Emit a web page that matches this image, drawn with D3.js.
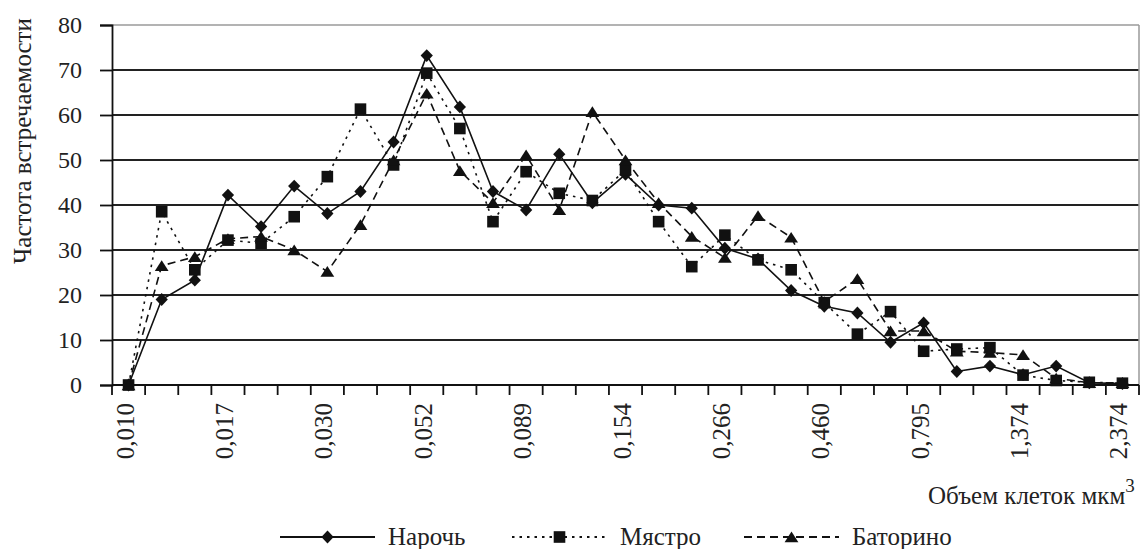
<!DOCTYPE html>
<html><head><meta charset="utf-8">
<script src="https://cdn.jsdelivr.net/npm/d3@7"></script>
<style>
html,body{margin:0;padding:0;background:#fff;}
</style></head>
<body><svg id="chart" width="1141" height="549"></svg>
<script>
// ---- data ----
const categories = d3.range(31); // 31 volume classes, log-spaced
const tickLabels = ["0,010","0,017","0,030","0,052","0,089","0,154","0,266","0,460","0,795","1,374","2,374"];
const labelEvery = 3;
const seriesNames = ["Нарочь","Мястро","Баторино"];
const narochValues = [0,19,23.3,42.2,35.2,44.2,38.1,43,54,73.2,61.8,43,38.9,51.3,40.5,46.8,40,39.3,30.4,28,21,17.5,16,9.5,13.8,3,4.2,2.3,4.2,0.5,0.3];
const myastroValues = [0,38.5,25.6,32.2,31.5,37.4,46.3,61.3,48.9,69.3,57,36.3,47.4,42.6,41,47.8,36.3,26.3,33.3,27.8,25.6,18.3,11.3,16.3,7.5,8,8.3,2.2,1,0.6,0.4];
const batorinoValues = [0,26.5,28.5,32.5,33,30,25.2,35.6,50,64.8,47.6,40.5,51.1,38.9,60.7,50,40.5,33,28.3,37.6,32.8,18.5,23.6,12,12,7.5,7.2,6.7,1.5,0.5,0.5];
const yTicks = [0,10,20,30,40,50,60,70,80];
const yTitle = "Частота встречаемости";
const xTitle = "Объем клеток мкм";

// ---- layout ----
const FONT = "'Liberation Serif'";
const TXT = "#222";
const svg = d3.select("#chart");
const L = 112, R = 1139, T = 25, B = 385;
const x = d3.scaleBand().domain(categories).range([L, R]).padding(0);
const y = d3.scaleLinear().domain([0, 80]).range([B, T]);
const cx = i => x(i) + x.bandwidth() / 2;

// marker shapes (Excel-like)
const wideDiamond = { draw(ctx, size) { const r = Math.sqrt(size) / 2;
  ctx.moveTo(0, -r * 1.05); ctx.lineTo(r, 0); ctx.lineTo(0, r * 1.05); ctx.lineTo(-r, 0); ctx.closePath(); } };
const flatTriangle = { draw(ctx, size) { const w = Math.sqrt(size) / 2;
  ctx.moveTo(0, -w * 0.8); ctx.lineTo(w, w * 0.75); ctx.lineTo(-w, w * 0.75); ctx.closePath(); } };

// gridlines
svg.append("g").selectAll("line").data(yTicks.filter(v => v > 0)).join("line")
  .attr("x1", L).attr("x2", R).attr("y1", d => y(d)).attr("y2", d => y(d))
  .attr("stroke", d => d === 80 ? "#9a9a9a" : "#222").attr("stroke-width", d => d === 80 ? 1.5 : 1.8);
// right border
svg.append("line").attr("x1", R).attr("x2", R).attr("y1", T).attr("y2", B)
  .attr("stroke", "#9a9a9a").attr("stroke-width", 1.5);

// y axis
const yAxis = d3.axisLeft(y).tickValues(yTicks).tickSize(12).tickPadding(18).tickFormat(d3.format("d"));
const gy = svg.append("g").attr("transform", `translate(${L},0)`).call(yAxis);
gy.select(".domain").attr("stroke", "#111").attr("stroke-width", 1.8);
gy.selectAll(".tick line").attr("stroke", "#111").attr("stroke-width", 1.8);
gy.selectAll(".tick text").style("font-family", FONT).style("font-size", "24px").style("fill", TXT);

// x axis: ticks at band boundaries
const bounds = categories.map(i => x(i)).concat([R]);
svg.append("line").attr("x1", L).attr("x2", R).attr("y1", B).attr("y2", B)
  .attr("stroke", "#111").attr("stroke-width", 1.8);
svg.append("g").selectAll("line").data(bounds).join("line")
  .attr("x1", d => d).attr("x2", d => d).attr("y1", B).attr("y2", B + 10)
  .attr("stroke", "#111").attr("stroke-width", 1.8);
svg.append("g").selectAll("text").data(tickLabels).join("text")
  .attr("transform", (d, k) => `translate(${cx(k * labelEvery) + 5},403) rotate(-90)`)
  .attr("text-anchor", "end")
  .style("font-family", FONT).style("font-size", "25px").style("fill", TXT).text(d => d);

// titles
svg.append("text").attr("transform", "translate(31,141) rotate(-90)")
  .attr("text-anchor", "middle")
  .style("font-family", FONT).style("font-size", "25px").style("fill", TXT).text(yTitle);
const xt = svg.append("text").attr("x", 928).attr("y", 504)
  .style("font-family", FONT).style("font-size", "25px").style("fill", TXT).text(xTitle);
xt.append("tspan").attr("dy", -12).style("font-size", "19px").text("3");

// series
const series = [
  {name: seriesNames[0], values: narochValues, dash: null, shape: wideDiamond, size: 150},
  {name: seriesNames[1], values: myastroValues, dash: "2.5,5", shape: d3.symbolSquare, size: 135},
  {name: seriesNames[2], values: batorinoValues, dash: "8,5", shape: flatTriangle, size: 190}
];
const line = d3.line().x((d, i) => cx(i)).y(d => y(d));
series.forEach(s => {
  svg.append("path").datum(s.values).attr("d", line).attr("fill", "none")
    .attr("stroke", "#111").attr("stroke-width", 1.6)
    .attr("stroke-dasharray", s.dash);
});
series.forEach(s => {
  const sym = d3.symbol().type(s.shape).size(s.size);
  svg.append("g").selectAll("path").data(s.values).join("path")
    .attr("d", sym).attr("transform", (d, i) => `translate(${cx(i)},${y(d)})`)
    .attr("fill", "#111");
});

// legend
const legX = [280, 512, 744];
series.forEach((s, k) => {
  const g = svg.append("g").attr("transform", `translate(${legX[k]},537)`);
  g.append("line").attr("x1", 0).attr("x2", 95).attr("y1", 0).attr("y2", 0)
    .attr("stroke", "#111").attr("stroke-width", 2).attr("stroke-dasharray", s.dash);
  g.append("path").attr("d", d3.symbol().type(s.shape).size(s.size)).attr("transform", "translate(47.5,0)").attr("fill", "#111");
  g.append("text").attr("x", 108).attr("y", 8)
    .style("font-family", FONT).style("font-size", "25px").style("fill", TXT).text(s.name);
});
</script></body></html>
